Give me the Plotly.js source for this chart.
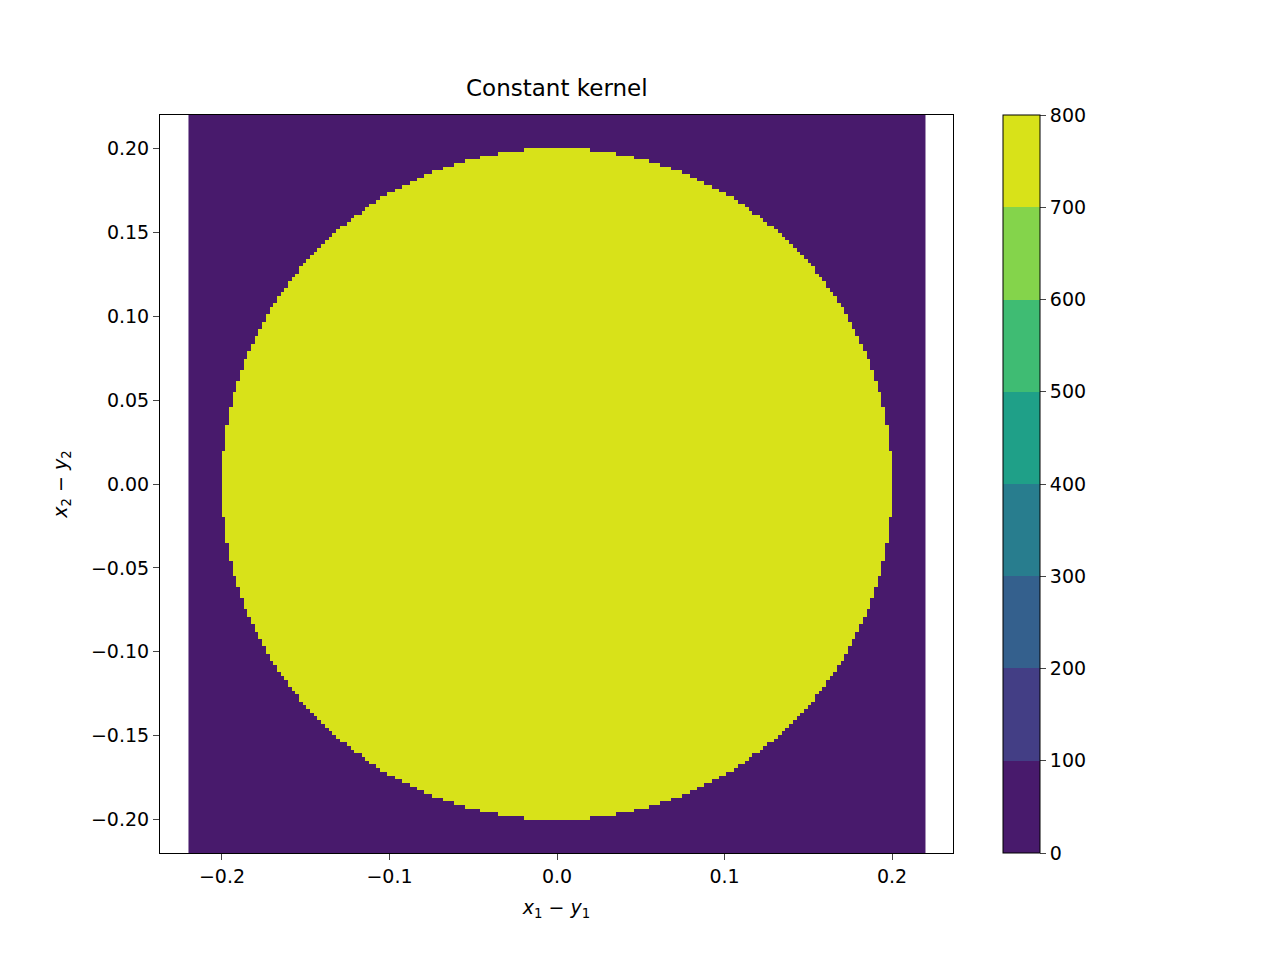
<!DOCTYPE html>
<html>
<head>
<script src="https://cdn.plot.ly/plotly-3.0.1.min.js"></script>
<style>body{margin:0;background:#fff}</style>
</head>
<body>
<div id="plot" style="width:1280px;height:960px"></div>
<script>
// --- DATA ---
const gridMin = -0.22, gridMax = 0.22, gridN = 200;
const kernelRadius = 0.2;
const insideValue = 785;
const outsideValue = 0;
const levelTicks = [0, 100, 200, 300, 400, 500, 600, 700, 800];
const bandColors = ['#481a6c', '#433e85', '#34608d', '#287d8e', '#1fa088', '#3fbc73', '#84d44b', '#d8e219'];

// cell-centre sample points (so the heatmap spans gridMin..gridMax)
const step = (gridMax - gridMin) / gridN;
const xs = [], ys = [];
for (let i = 0; i < gridN; i++) {
    const v = gridMin + step * (i + 0.5);
    xs.push(v); ys.push(v);
}
const z = ys.map(y => xs.map(x => (x * x + y * y <= kernelRadius * kernelRadius) ? insideValue : outsideValue));

// stepped colorscale so bands look like contourf
const cs = [];
bandColors.forEach((c, i) => {
    cs.push([i / bandColors.length, c]);
    cs.push([(i + 1) / bandColors.length, c]);
});

const trace = {
    type: 'heatmap',
    x: xs, y: ys, z: z,
    zmin: 0, zmax: 800,
    colorscale: cs,
    colorbar: {
        x: 1 + 50 / 793, xanchor: 'left', xpad: 0, ypad: 0,
        thickness: 37, len: 1, lenmode: 'fraction',
        tickvals: levelTicks, ticks: 'outside', ticklen: 6,
        outlinecolor: 'black', outlinewidth: 1,
        tickfont: { size: 19 }
    }
};

const axisCommon = {
    showgrid: false, zeroline: false, showline: true, mirror: true,
    linecolor: 'black', linewidth: 1, ticks: 'outside', ticklen: 6,
    tickfont: { size: 19 }
};

const layout = {
    font: { family: 'DejaVu Sans', color: 'black' },
    paper_bgcolor: 'white', plot_bgcolor: 'white',
    margin: { l: 160, r: 327, t: 115, b: 107 },
    title: { text: 'Constant kernel', font: { size: 23 }, x: 0.435, xanchor: 'center', y: 1 - 88 / 960, yanchor: 'middle' },
    xaxis: Object.assign({}, axisCommon, {
        range: [-0.237, 0.2364], tickvals: [-0.2, -0.1, 0, 0.1, 0.2],
        ticktext: ['\u22120.2', '\u22120.1', '0.0', '0.1', '0.2'],
        title: { text: '<i>x</i><sub>1</sub> \u2212 <i>y</i><sub>1</sub>', font: { size: 19 }, standoff: 14 }
    }),
    yaxis: Object.assign({}, axisCommon, {
        range: [-0.22, 0.22],
        tickvals: [-0.2, -0.15, -0.1, -0.05, 0, 0.05, 0.1, 0.15, 0.2],
        ticktext: ['\u22120.20', '\u22120.15', '\u22120.10', '\u22120.05', '0.00', '0.05', '0.10', '0.15', '0.20'],
        title: { text: '<i>x</i><sub>2</sub> \u2212 <i>y</i><sub>2</sub>', font: { size: 19 }, standoff: 18 }
    })
};

Plotly.newPlot('plot', [trace], layout, { displayModeBar: false });
</script>
</body>
</html>
